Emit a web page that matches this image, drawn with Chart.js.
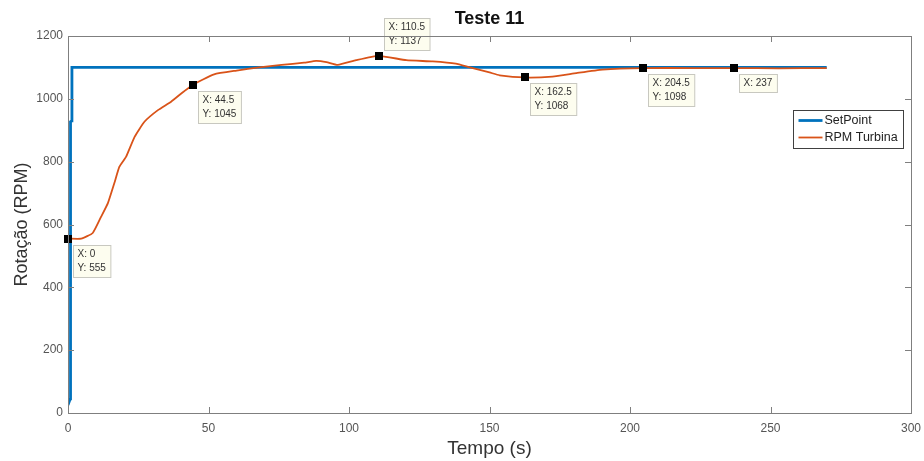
<!DOCTYPE html>
<html>
<head>
<meta charset="utf-8">
<script src="https://cdn.jsdelivr.net/npm/chart.js@4/dist/chart.umd.min.js"></script>
<style>
  html, body { margin: 0; padding: 0; background: #fff; }
  #wrap { width: 924px; height: 461px; }
</style>
</head>
<body>
<div id="wrap"><canvas id="c" width="924" height="461"></canvas></div>
<script>
// Chart text
const chartTitle = 'Teste 11';
const xTitle = 'Tempo (s)';
const yTitle = 'Rotação (RPM)';
const seriesNames = ['SetPoint', 'RPM Turbina'];

// Setpoint step
const setpointTime = [0, 0.8, 0.9, 1.3, 1.4, 270];
const setpointRpm  = [25, 45, 927, 930, 1100, 1100];

// Measured turbine speed
const turbineTime = [0, 4.7, 8.8, 11.8, 14.2, 16.5, 18.3, 20.7, 23.7, 27.2, 32, 36.7, 40.3, 44.5,
  52, 60, 68, 76, 84, 88.3, 92, 96, 102.5, 110.5, 120.4, 129.8, 138, 143, 150, 153.6,
  162.5, 172.4, 180.9, 190.2, 204.5, 223, 237, 253, 270];
const turbineRpm = [555, 555, 573, 625, 668, 732, 784, 816, 879, 927, 964, 991, 1017, 1045,
  1078, 1090, 1100, 1108, 1115, 1121, 1117, 1108, 1123, 1137, 1123, 1119, 1112, 1100, 1084, 1075,
  1068, 1071, 1082, 1093, 1098, 1098, 1098, 1097, 1098];

// Data tips on the turbine curve
const tipTime = [0, 44.5, 110.5, 162.5, 204.5, 237];
const tipRpm  = [555, 1045, 1137, 1068, 1098, 1098];
const tipShowY = [true, true, true, true, true, false];
const tipAbove = [false, false, true, false, false, false];

// Axis ticks
const xTicks = [0, 50, 100, 150, 200, 250, 300];
const yTicks = [0, 200, 400, 600, 800, 1000, 1200];

const FONT = '"Liberation Sans", Arial, Helvetica, sans-serif';
const AXIS_COLOR = '#7f7f7f';
const TEXT_COLOR = '#555';

const toXY = (xs, ys) => xs.map((x, i) => ({ x, y: ys[i] }));

// Box around the plot area plus inward tick marks on all four sides
const frameTicks = {
  id: 'frameTicks',
  afterDraw(chart) {
    const { ctx, chartArea: a, scales } = chart;
    ctx.save();
    ctx.strokeStyle = AXIS_COLOR;
    ctx.lineWidth = 1;
    ctx.strokeRect(Math.round(a.left) + 0.5, Math.round(a.top) + 0.5,
      Math.round(a.right - a.left), Math.round(a.bottom - a.top));
    const L = 6;
    ctx.beginPath();
    xTicks.forEach(v => {
      const px = Math.round(scales.x.getPixelForValue(v)) + 0.5;
      ctx.moveTo(px, a.bottom); ctx.lineTo(px, a.bottom - L);
      ctx.moveTo(px, a.top); ctx.lineTo(px, a.top + L);
    });
    yTicks.forEach(v => {
      const py = Math.round(scales.y.getPixelForValue(v)) + 0.5;
      ctx.moveTo(a.left, py); ctx.lineTo(a.left + L, py);
      ctx.moveTo(a.right, py); ctx.lineTo(a.right - L, py);
    });
    ctx.stroke();
    ctx.restore();
  }
};

// Data tip markers with their label boxes
const dataTips = {
  id: 'dataTips',
  afterDatasetsDraw(chart) {
    const { ctx, scales } = chart;
    ctx.save();
    ctx.font = '10px ' + FONT;
    ctx.textBaseline = 'middle';
    tipTime.forEach((t, i) => {
      const px = scales.x.getPixelForValue(t);
      const py = scales.y.getPixelForValue(tipRpm[i]);
      const lines = ['X: ' + t];
      if (tipShowY[i]) lines.push('Y: ' + tipRpm[i]);
      const w = Math.max(...lines.map(s => ctx.measureText(s).width)) + 9;
      const h = lines.length * 14 + 4;
      const bx = Math.round(px + 5) + 0.5;
      const by = Math.round(tipAbove[i] ? py - 6 - h : py + 6) + 0.5;
      ctx.fillStyle = '#fdfdef';
      ctx.strokeStyle = '#c8c8c0';
      ctx.lineWidth = 1;
      ctx.fillRect(bx, by, w, h);
      ctx.strokeRect(bx, by, w, h);
      ctx.fillStyle = '#333';
      lines.forEach((s, k) => ctx.fillText(s, bx + 4, by + 9 + k * 14));
      ctx.fillStyle = '#000';
      ctx.fillRect(Math.round(px) - 4, Math.round(py) - 4, 8, 8);
    });
    ctx.restore();
  }
};

// Legend box in the upper right of the plot area
const legendBox = {
  id: 'legendBox',
  afterDraw(chart) {
    const { ctx } = chart;
    const x = 793.5, y = 110.5, w = 110, h = 38;
    ctx.save();
    ctx.fillStyle = '#fff';
    ctx.fillRect(x, y, w, h);
    ctx.strokeStyle = '#404040';
    ctx.lineWidth = 1;
    ctx.strokeRect(x, y, w, h);
    ctx.font = '12.5px ' + FONT;
    ctx.textBaseline = 'middle';
    chart.data.datasets.forEach((ds, i) => {
      const ly = y + 10 + i * 17;
      ctx.strokeStyle = ds.borderColor;
      ctx.lineWidth = ds.borderWidth;
      ctx.beginPath();
      ctx.moveTo(x + 5, ly); ctx.lineTo(x + 29, ly);
      ctx.stroke();
      ctx.fillStyle = '#222';
      ctx.fillText(ds.label, x + 31, ly + 0.5);
    });
    ctx.restore();
  }
};

new Chart(document.getElementById('c'), {
  type: 'line',
  data: {
    datasets: [
      { label: seriesNames[0], data: toXY(setpointTime, setpointRpm), borderColor: '#0072BD',
        borderWidth: 2.8, pointRadius: 0, tension: 0, order: 2 },
      { label: seriesNames[1], data: toXY(turbineTime, turbineRpm), borderColor: '#D95319',
        borderWidth: 1.8, pointRadius: 0, tension: 0.15, order: 1 }
    ]
  },
  options: {
    responsive: false,
    animation: false,
    devicePixelRatio: 1,
    layout: { padding: { left: 0, right: 13, top: 0, bottom: 0 } },
    plugins: {
      legend: { display: false },
      tooltip: { enabled: false },
      title: {
        display: true, text: chartTitle, fullSize: false,
        color: '#111', font: { family: FONT, size: 18, weight: 'bold' },
        padding: { top: 8.5, bottom: 5.9 }
      }
    },
    scales: {
      x: {
        type: 'linear', min: 0, max: 300,
        afterFit: s => { s.height = 48; s.paddingLeft = 0; s.paddingRight = 0; },
        afterBuildTicks: s => { s.ticks = xTicks.map(v => ({ value: v })); },
        grid: { display: false, drawTicks: false },
        border: { display: false },
        ticks: { color: TEXT_COLOR, font: { family: FONT, size: 12 }, padding: 8, maxRotation: 0,
          callback: v => String(v) },
        title: { display: true, text: xTitle, color: '#333', font: { family: FONT, size: 19 },
          padding: { top: 0, bottom: 0.6 } }
      },
      y: {
        type: 'linear', min: 0, max: 1200,
        afterFit: s => { s.width = 68; s.paddingTop = 0; s.paddingBottom = 0; },
        afterBuildTicks: s => { s.ticks = yTicks.map(v => ({ value: v })); },
        grid: { display: false, drawTicks: false },
        border: { display: false },
        ticks: { color: TEXT_COLOR, font: { family: FONT, size: 12 }, padding: 5,
          callback: v => String(v) },
        title: { display: true, text: yTitle, color: '#333', font: { family: FONT, size: 18 },
          padding: { top: 11, bottom: 0 } }
      }
    }
  },
  plugins: [frameTicks, dataTips, legendBox]
});
</script>
</body>
</html>
